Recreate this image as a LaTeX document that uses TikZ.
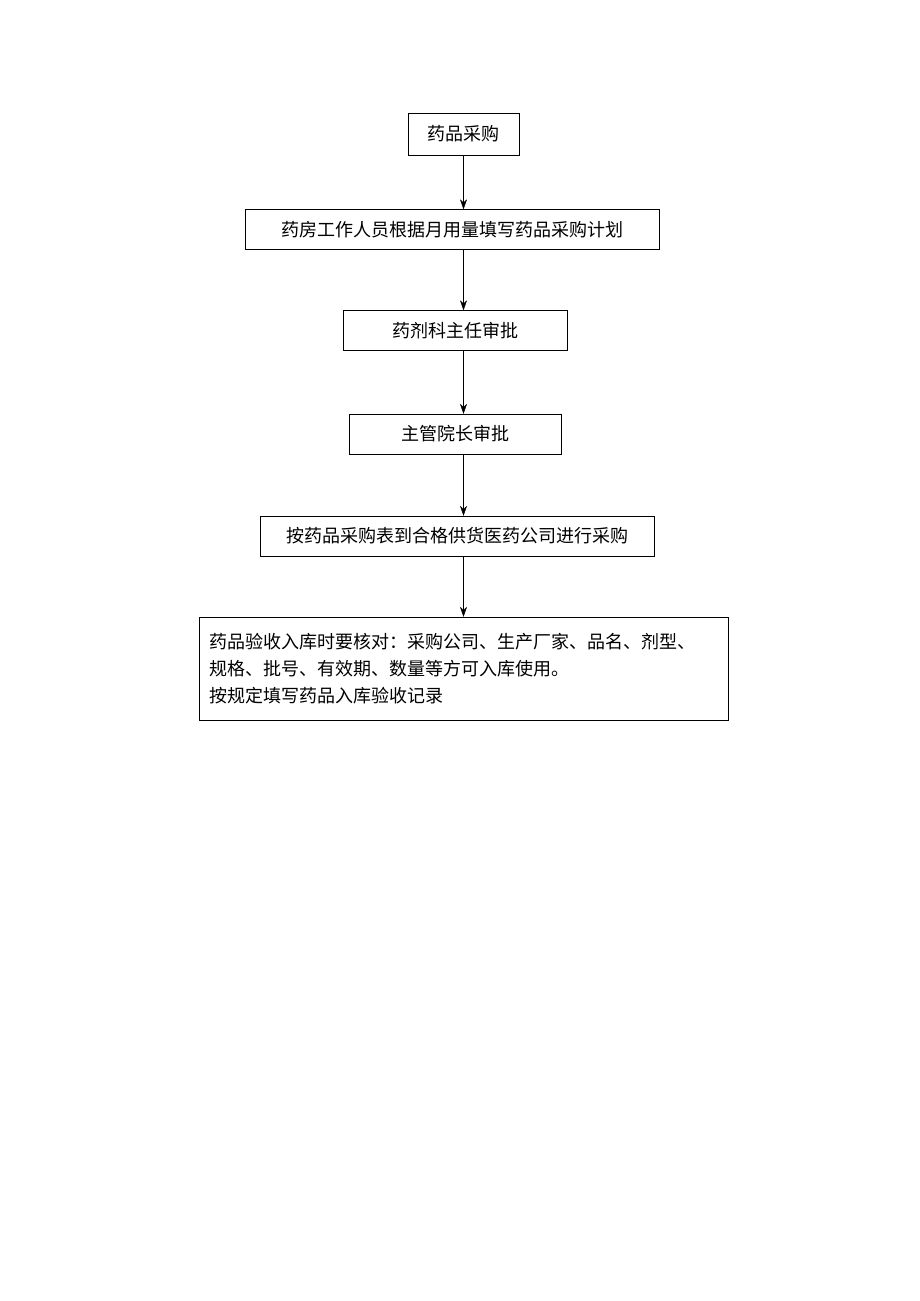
\documentclass[tikz,border=0pt]{standalone}
\usepackage{fontspec}
\setmainfont{Noto Sans CJK SC}
\usetikzlibrary{arrows.meta,positioning}

\begin{document}
\begin{tikzpicture}[x=1pt,y=-1pt,font=\fontsize{18}{27}\selectfont,
	every node/.style={draw,thin,inner sep=0pt},
	stepbox/.style={minimum height=40pt},
	flow/.style={-{Stealth[length=10pt,width=7pt]},thin}]
	\useasboundingbox (0,0) rectangle (920,1301);

	\node[stepbox,minimum width=111pt,minimum height=42pt] (buy) at (463.5,134) {药品采购};
	\node[stepbox,minimum width=414pt] (plan) at (452,229.5) {药房工作人员根据月用量填写药品采购计划};
	\node[stepbox,minimum width=224pt] (chief) at (455,330.5) {药剂科主任审批};
	\node[stepbox,minimum width=212pt] (dean) at (455,434) {主管院长审批};
	\node[stepbox,minimum width=394pt] (order) at (457,536) {按药品采购表到合格供货医药公司进行采购};
	\node[minimum width=529pt,minimum height=103pt,align=left,text width=509pt] (check) at (463.5,668.5)
		{药品验收入库时要核对：采购公司、生产厂家、品名、剂型、\\规格、批号、有效期、数量等方可入库使用。\\按规定填写药品入库验收记录};

	\draw[flow] (buy.south) -- (buy.south |- plan.north);
	\draw[flow] (buy.south |- plan.south) -- (buy.south |- chief.north);
	\draw[flow] (buy.south |- chief.south) -- (buy.south |- dean.north);
	\draw[flow] (buy.south |- dean.south) -- (buy.south |- order.north);
	\draw[flow] (buy.south |- order.south) -- (buy.south |- check.north);
\end{tikzpicture}
\end{document}
